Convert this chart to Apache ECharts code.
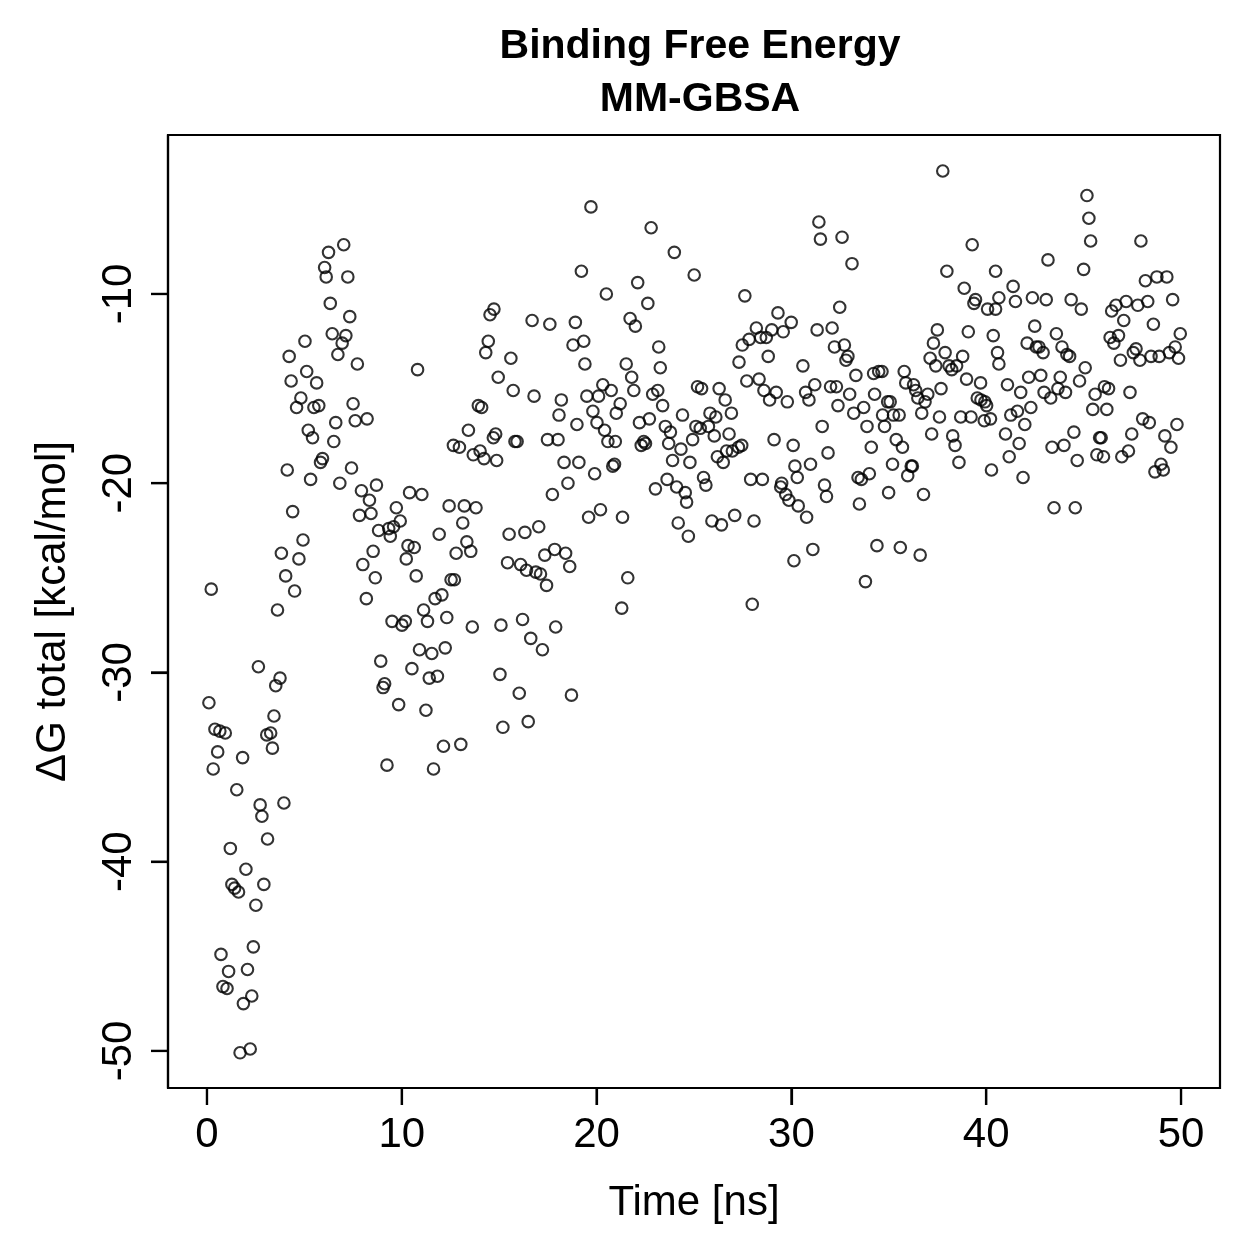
<!DOCTYPE html>
<html>
<head>
<meta charset="utf-8">
<script src="https://cdn.jsdelivr.net/npm/echarts@6/dist/echarts.min.js"></script>
<style>
  html, body { margin: 0; padding: 0; background: #fff; }
  #chart { width: 1259px; height: 1259px; }
</style>
</head>
<body>
<div id="chart"></div>
<script>
// tick positions / labels
const xTicks = [0, 10, 20, 30, 40, 50]
const yTicks = [-50, -40, -30, -20, -10]

// [time (ns), dG total (kcal/mol)]
const samples = [
  [0.10,-31.6],[0.22,-25.6],[0.32,-35.1],[0.41,-33.0],[0.55,-34.2],[0.66,-33.1],[0.72,-44.9],[0.82,-46.6],[0.94,-33.2],[1.03,-46.7],
  [1.11,-45.8],[1.20,-39.3],[1.28,-41.2],[1.42,-41.4],[1.62,-41.6],[1.53,-36.2],[1.70,-50.1],[1.83,-34.5],[1.87,-47.5],[2.00,-40.4],
  [2.08,-45.7],[2.22,-49.9],[2.30,-47.1],[2.38,-44.5],[2.51,-42.3],[2.64,-29.7],[2.73,-37.0],[2.82,-37.6],[2.92,-41.2],[3.07,-33.3],
  [3.11,-38.8],[3.27,-33.2],[3.36,-34.0],[3.44,-32.3],[3.53,-30.7],[3.62,-26.7],[3.75,-30.3],[3.82,-23.7],[3.95,-36.9],[4.04,-24.9],
  [4.12,-19.3],[4.22,-13.3],[4.32,-14.6],[4.40,-21.5],[4.50,-25.7],
  [4.60,-16.0],[4.72,-24.0],[4.82,-15.5],[4.93,-23.0],[5.03,-12.5],[5.12,-14.1],[5.20,-17.2],[5.32,-19.8],[5.42,-17.6],[5.49,-16.0],
  [5.63,-14.7],[5.74,-15.9],[5.83,-18.9],[5.93,-18.7],[6.04,-8.6],[6.12,-9.1],[6.24,-7.8],[6.33,-10.5],[6.43,-12.1],[6.51,-17.8],
  [6.61,-16.8],[6.72,-13.2],[6.82,-20.0],[6.94,-12.6],[7.02,-7.4],[7.13,-12.2],[7.23,-9.1],[7.33,-11.2],[7.42,-19.2],[7.50,-15.8],
  [7.61,-16.7],[7.72,-13.7],[7.83,-21.7],[7.93,-20.4],[8.00,-24.3],[8.18,-26.1],[8.22,-16.6],[8.34,-20.9],[8.42,-21.6],[8.53,-23.6],
  [8.64,-25.0],[8.70,-20.1],[8.81,-22.5],[9.33,-22.4],[9.58,-22.3],[9.41,-22.8],
  [8.92,-29.4],[9.12,-30.6],[9.04,-30.8],[9.24,-34.9],[9.50,-27.3],[9.72,-21.3],[9.84,-31.7],[9.92,-22.0],[10.01,-27.5],[10.18,-27.3],
  [10.23,-24.0],[10.32,-23.3],[10.40,-20.5],[10.52,-29.8],[10.64,-23.4],[10.74,-24.9],[10.81,-14.0],[10.91,-28.8],[11.03,-20.6],[11.12,-26.7],
  [11.24,-32.0],[11.32,-27.3],[11.41,-30.3],[11.54,-29.0],[11.63,-35.1],[11.71,-26.1],[11.83,-30.2],[11.92,-22.7],[12.06,-25.9],[12.14,-33.9],
  [12.23,-28.7],[12.31,-27.1],[12.43,-21.2],[12.53,-25.1],[12.65,-18.0],[12.70,-25.1],[12.79,-23.7],[12.96,-18.1],[13.03,-33.8],[13.13,-22.1],
  [13.21,-21.2],[13.34,-23.1],[13.42,-17.2],[13.54,-23.6],[13.62,-27.6],[13.67,-18.5],[13.81,-21.3],[13.93,-15.9],[14.02,-18.3],[14.10,-16.0],
  [14.22,-18.7],[14.31,-13.1],[14.44,-12.5],[14.53,-11.1],[14.70,-17.6],[14.73,-10.8],[14.82,-17.4],[14.87,-18.8],[14.95,-14.4],[15.09,-27.5],
  [15.04,-30.1],[15.19,-32.9],
  [15.43,-24.2],[15.51,-22.7],[15.60,-13.4],[15.72,-15.1],[15.81,-17.8],[15.92,-17.8],[16.03,-31.1],[16.10,-24.3],[16.20,-27.2],[16.32,-22.6],
  [16.40,-24.6],[16.49,-32.6],[16.62,-28.2],[16.69,-11.4],[16.79,-15.4],[16.88,-24.7],[17.03,-22.3],[17.12,-24.8],[17.22,-28.8],[17.34,-23.8],
  [17.43,-25.4],[17.48,-17.7],[17.60,-11.6],[17.73,-20.6],[17.85,-23.5],[17.90,-27.6],[18.02,-17.7],[18.07,-16.4],[18.19,-15.6],[18.33,-18.9],
  [18.41,-23.7],[18.53,-20.0],[18.62,-24.4],[18.71,-31.2],[18.79,-12.7],[18.91,-11.5],[18.99,-16.9],[19.09,-18.9],[19.22,-8.8],[19.34,-12.5],
  [19.40,-13.7],[19.50,-15.4],[19.59,-21.8],[19.71,-5.4],[19.81,-16.2],[19.90,-19.5],[20.02,-16.8],[20.10,-15.4],[20.20,-21.4],[20.32,-14.8],
  [20.41,-17.2],[20.50,-10.0],[20.58,-17.8],[20.75,-15.1],[20.83,-19.1],[20.92,-19.0],[20.96,-17.8],[21.01,-16.3],[21.33,-21.8],[21.21,-15.8],
  [21.29,-26.6],
  [21.52,-13.7],[21.60,-25.0],[21.72,-11.3],[21.80,-14.4],[21.91,-15.1],[21.99,-11.7],[22.11,-9.4],[22.20,-16.8],[22.29,-18.0],[22.42,-17.8],
  [22.51,-17.9],[22.63,-10.5],[22.71,-16.6],[22.80,-6.5],[22.88,-15.3],[23.02,-20.3],[23.14,-15.1],[23.19,-12.8],[23.27,-13.9],[23.39,-15.9],
  [23.53,-17.0],[23.62,-19.8],[23.70,-17.9],[23.79,-17.3],[23.90,-18.8],[23.99,-7.8],[24.11,-20.2],[24.19,-22.1],[24.33,-18.2],[24.41,-16.4],
  [24.55,-20.5],[24.62,-21.0],[24.71,-22.8],[24.79,-18.9],[24.93,-17.7],[25.01,-9.0],[25.10,-17.0],[25.18,-14.9],[25.32,-17.1],[25.39,-15.0],
  [25.49,-19.7],[25.61,-20.1],[25.74,-17.0],[25.82,-16.3],[25.92,-22.0],[26.04,-17.5],[26.12,-16.5],[26.20,-18.6],[26.29,-15.0],[26.41,-22.2],
  [26.50,-18.9],[26.60,-15.6],[26.67,-18.3],[26.80,-17.4],[26.92,-16.3],[26.97,-18.3],[27.09,-21.7],[27.28,-18.1],[27.31,-13.6],[27.45,-18.0],
  [27.48,-12.7],[27.61,-10.1],[27.71,-14.6],[27.83,-12.4],[27.91,-19.8],[27.99,-26.4],[28.08,-22.0],[28.20,-11.8],[28.34,-14.5],[28.42,-12.3],
  [28.51,-19.8],[28.59,-15.1],[28.71,-12.3],[28.81,-13.3],[28.88,-15.6],[28.99,-11.9],[29.11,-17.7],[29.22,-15.2],[29.31,-11.0],[29.45,-20.2],
  [29.50,-20.0],[29.58,-12.0],[29.71,-20.6],[29.79,-15.7],[29.87,-20.9],[29.99,-11.5],[30.09,-18.0],[30.13,-24.1],[30.18,-19.1],[30.30,-19.7],
  [30.35,-21.2],
  [30.59,-13.8],[30.73,-15.2],[30.78,-21.8],[30.90,-15.6],[30.98,-19.0],[31.10,-23.5],[31.20,-14.8],[31.32,-11.9],[31.41,-6.2],[31.49,-7.1],
  [31.58,-17.0],[31.70,-20.1],[31.80,-20.7],[31.88,-18.4],[32.01,-14.9],[32.09,-11.8],[32.21,-12.8],[32.31,-14.9],[32.39,-15.9],[32.48,-10.7],
  [32.60,-7.0],[32.72,-12.7],[32.80,-13.5],[32.90,-13.3],[32.99,-15.3],[33.11,-8.4],[33.20,-16.3],[33.31,-14.3],[33.42,-19.7],[33.49,-21.1],
  [33.59,-19.8],[33.71,-16.0],[33.80,-25.2],[33.88,-17.0],[34.00,-19.5],[34.10,-18.1],[34.22,-14.2],[34.27,-15.3],[34.39,-23.3],[34.48,-14.1],
  [34.65,-14.1],[34.68,-16.4],[34.78,-17.0],[34.94,-15.7],[34.99,-20.5],[35.07,-15.7],[35.19,-19.0],[35.24,-16.4],[35.38,-17.7],[35.53,-16.4],
  [35.59,-23.4],[35.70,-18.1],[35.79,-14.1],[35.87,-14.7],[35.97,-19.6],[36.15,-19.1],[36.21,-19.1],[36.27,-14.8],[36.38,-15.1],[36.49,-15.5],
  [36.61,-23.8],[36.69,-16.3],[36.78,-20.6],[36.86,-15.7],[37.00,-15.3],[37.12,-13.4],[37.20,-17.4],[37.29,-12.6],[37.41,-13.8],[37.49,-11.9],
  [37.60,-16.5],[37.68,-15.0],[37.77,-3.5],[37.89,-13.1],[37.98,-8.8],[38.09,-13.8],[38.23,-14.0],[38.28,-17.5],[38.40,-18.0],[38.48,-13.8],
  [38.60,-18.9],[38.69,-16.5],[38.79,-13.3],[38.87,-9.7],[38.99,-14.5],[39.08,-12.0],[39.22,-16.5],[39.28,-7.4],[39.37,-10.5],[39.45,-10.3],
  [39.54,-15.5],[39.71,-14.7],[39.73,-15.6],[39.90,-16.7],[39.93,-15.7],[40.02,-15.9],[40.07,-10.8],[40.22,-16.6],[40.27,-19.3],[40.36,-12.2],
  [40.48,-10.8],[40.48,-8.8],[40.58,-13.1],[40.65,-10.2],[40.65,-13.7],
  [40.99,-17.4],[41.09,-14.8],[41.18,-18.6],[41.26,-16.4],[41.38,-9.6],[41.50,-10.4],[41.60,-16.2],[41.69,-17.9],[41.77,-15.2],[41.89,-19.7],
  [41.98,-16.9],[42.10,-12.6],[42.18,-14.4],[42.29,-16.0],[42.37,-10.2],[42.49,-11.7],[42.57,-12.8],[42.71,-12.8],[42.80,-14.3],[42.92,-13.1],
  [42.97,-15.2],[43.08,-10.3],[43.17,-8.2],[43.31,-15.5],[43.38,-18.1],[43.48,-21.3],[43.60,-12.1],[43.68,-15.0],[43.80,-14.4],[43.89,-12.8],
  [43.99,-18.0],[44.07,-15.2],[44.14,-13.2],[44.28,-13.3],[44.36,-10.3],[44.50,-17.3],[44.57,-21.3],[44.67,-18.8],[44.79,-14.6],[44.88,-10.8],
  [45.00,-8.7],[45.08,-13.9],[45.17,-4.8],[45.27,-6.0],[45.36,-7.2],[45.47,-16.1],[45.59,-15.3],[45.68,-18.5],[45.82,-17.6],[45.90,-17.6],
  [46.02,-18.6],[46.07,-14.9],[46.19,-16.1],[46.28,-15.0],[46.36,-12.3],[46.44,-10.9],[46.55,-12.6],[46.66,-10.6],[46.79,-12.2],[46.89,-13.5],
  [46.96,-18.6],[47.06,-11.4],[47.18,-10.4],[47.30,-18.3],[47.38,-15.2],[47.47,-17.4],[47.55,-13.1],[47.69,-12.9],[47.78,-10.6],[47.89,-13.5],
  [47.94,-7.2],[48.03,-16.6],[48.17,-9.3],[48.29,-10.4],[48.37,-16.8],[48.46,-13.3],[48.58,-11.6],[48.66,-19.4],[48.76,-9.1],[48.88,-13.3],
  [48.97,-19.0],[49.09,-19.3],[49.17,-17.5],[49.27,-9.1],[49.40,-13.1],[49.48,-18.1],[49.57,-10.3],[49.70,-12.8],[49.79,-16.9],[49.87,-13.4],
  [49.96,-12.1]
]

const FONT = 'Liberation Sans'
const TICK_LEN = 17

const chart = echarts.init(document.getElementById('chart'))

const axisLineStyle = () => ({ show: true, onZero: false, lineStyle: { color: '#000', width: 2.2 } })
const tickStyle = values => ({ show: true, length: TICK_LEN, customValues: values, lineStyle: { color: '#000', width: 2.2 } })

// outward tick marks drawn again through the axis scales, in case the axis
// ticks on the grid edge do not show up
const xTickMark = (params, api) => {
  const cs = params.coordSys
  const px = api.coord([api.value(0), api.value(1)])[0]
  const y0 = cs.y + cs.height
  return { type: 'line', shape: { x1: px, y1: y0, x2: px, y2: y0 + TICK_LEN }, style: { stroke: '#000', lineWidth: 2.2 } }
}
const yTickMark = (params, api) => {
  const cs = params.coordSys
  const py = api.coord([api.value(0), api.value(1)])[1]
  return { type: 'line', shape: { x1: cs.x - TICK_LEN, y1: py, x2: cs.x, y2: py }, style: { stroke: '#000', lineWidth: 2.2 } }
}

const option = {
  animation: false,
  backgroundColor: '#fff',
  title: {
    text: 'Binding Free Energy\nMM-GBSA',
    left: 695,
    textAlign: 'center',
    top: 15,
    textStyle: { fontFamily: FONT, fontSize: 41, fontWeight: 'bold', lineHeight: 53, color: '#000' }
  },
  grid: {
    left: 168,
    right: 39,
    top: 135,
    bottom: 171,
    show: true,
    borderColor: '#000',
    borderWidth: 2.2
  },
  xAxis: {
    type: 'value',
    z: 10,
    min: -2,
    max: 52,
    name: 'Time [ns]',
    nameLocation: 'middle',
    nameGap: 94,
    nameTextStyle: { fontFamily: FONT, fontSize: 42, color: '#000' },
    axisLine: axisLineStyle(),
    splitLine: { show: false },
    axisTick: tickStyle(xTicks),
    axisLabel: { customValues: xTicks, margin: 26, fontFamily: FONT, fontSize: 42, color: '#000' }
  },
  yAxis: {
    type: 'value',
    z: 10,
    min: -51.96,
    max: -1.6,
    name: 'ΔG total [kcal/mol]',
    nameLocation: 'middle',
    nameGap: 94,
    nameRotate: 90,
    nameTextStyle: { fontFamily: FONT, fontSize: 42, color: '#000' },
    axisLine: axisLineStyle(),
    splitLine: { show: false },
    axisTick: tickStyle(yTicks),
    axisLabel: { customValues: yTicks, rotate: 90, margin: 28, fontFamily: FONT, fontSize: 42, color: '#000' }
  },
  series: [
    {
      type: 'scatter',
      data: samples,
      symbol: 'circle',
      symbolSize: 11.5,
      large: false,
      progressive: 0,
      itemStyle: { color: 'rgba(0,0,0,0)', borderColor: '#000', borderWidth: 2.1 },
      emphasis: { disabled: true }
    },
    {
      type: 'custom',
      silent: true,
      clip: false,
      z: 10,
      data: xTicks.map(v => [v, yTicks[0]]),
      renderItem: xTickMark
    },
    {
      type: 'custom',
      silent: true,
      clip: false,
      z: 10,
      data: yTicks.map(v => [xTicks[0], v]),
      renderItem: yTickMark
    }
  ]
}

chart.setOption(option)
</script>
</body>
</html>
